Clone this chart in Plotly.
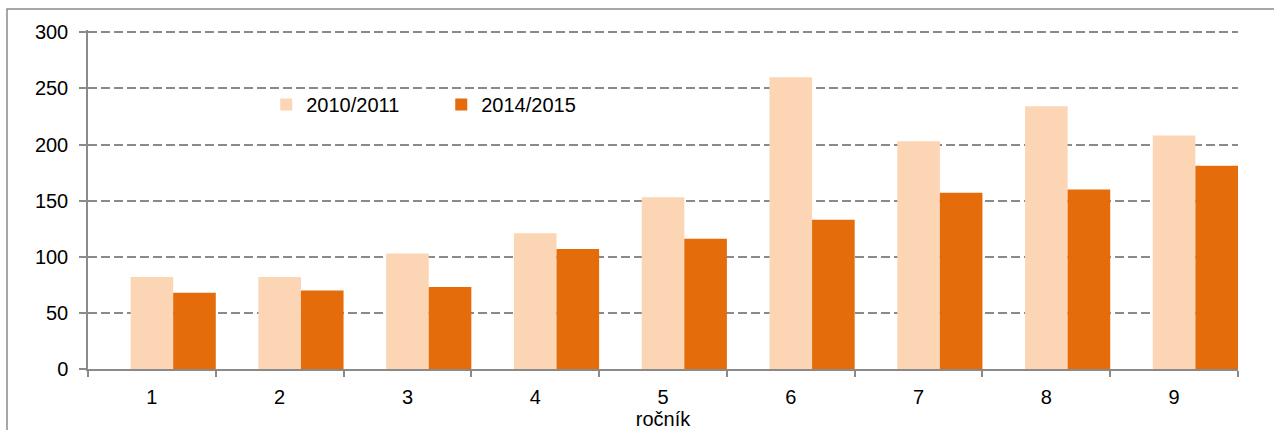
import plotly.graph_objects as go

# rocnik (school grade) categories and counts per school year
categories = ["1", "2", "3", "4", "5", "6", "7", "8", "9"]
values_2010 = [82, 82, 103, 121, 153, 260, 203, 234, 208]
values_2014 = [68, 70, 73, 107, 116, 133, 157, 160, 181]
y_ticks = [0, 50, 100, 150, 200, 250, 300]

FONT = "Liberation Sans, Arial, sans-serif"
GRAY = "#8a8a8a"
FS = 20

fig = go.Figure()

# bars sit in the right two thirds of each category (Excel-like layout)
fig.add_trace(go.Bar(
    x=categories, y=values_2010, name="2010/2011",
    width=1 / 3, offset=-1 / 6,
    marker=dict(color="#FCD5B5", line=dict(width=0)),
))
fig.add_trace(go.Bar(
    x=categories, y=values_2014, name="2014/2015",
    width=1 / 3, offset=1 / 6,
    marker=dict(color="#E46C0A", line=dict(width=0)),
))

# outer frame (cut by the right and bottom edge of the picture)
fig.add_shape(
    type="rect", xref="paper", yref="paper",
    x0=-81 / 1150, x1=1.2, y0=-0.5, y1=1 + 21 / 339,
    line=dict(color=GRAY, width=1.5), layer="below",
)

fig.update_layout(
    width=1274, height=430,
    margin=dict(l=88, r=36, t=30, b=61),
    paper_bgcolor="white", plot_bgcolor="white",
    font=dict(family=FONT, size=FS, color="black"),
    showlegend=True,
    legend=dict(
        orientation="h", x=0.155, y=0.78, xanchor="left", yanchor="middle",
        itemwidth=30, entrywidth=130, bgcolor="rgba(0,0,0,0)",
        font=dict(size=FS), traceorder="normal",
    ),
)

# range a bit above 300 so the top dashed grid line is still drawn
fig.update_yaxes(
    range=[0, 302], tickvals=y_ticks,
    showgrid=True, gridcolor=GRAY, griddash="9px,4px", gridwidth=1.5,
    showline=True, linecolor=GRAY, linewidth=1.5,
    ticks="outside", ticklen=7, tickcolor=GRAY, tickwidth=1.5,
    ticklabelstandoff=7, automargin=False,
    zeroline=False, tickfont=dict(size=FS),
)

fig.update_xaxes(
    type="category", tickson="boundaries",
    showline=True, linecolor=GRAY, linewidth=1.5,
    ticks="outside", ticklen=6, tickcolor=GRAY, tickwidth=1.5,
    ticklabelstandoff=9, automargin=False,
    showgrid=False, tickfont=dict(size=FS),
    title=dict(text="ročník", standoff=2, font=dict(size=FS)),
)

# drop the default body margin so the figure fills the window exactly
fig.write_html(
    "out.html",
    config={"displayModeBar": False},
    post_script="document.body.style.margin = '0';",
)
